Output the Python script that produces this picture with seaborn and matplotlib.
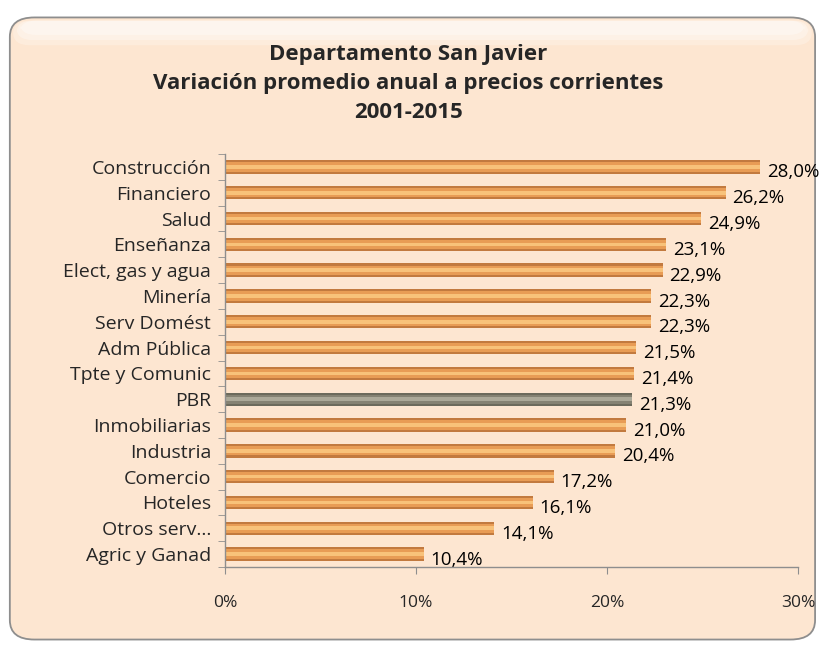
import matplotlib
matplotlib.use("Agg")
import matplotlib.pyplot as plt
import seaborn as sns
import pandas as pd
from matplotlib.patches import FancyBboxPatch

# data
sectores = ["Construcción", "Financiero", "Salud", "Enseñanza", "Elect, gas y agua",
            "Minería", "Serv Domést", "Adm Pública", "Tpte y Comunic", "PBR",
            "Inmobiliarias", "Industria", "Comercio", "Hoteles", "Otros serv…",
            "Agric y Ganad"]
variacion = [28.0, 26.2, 24.9, 23.1, 22.9, 22.3, 22.3, 21.5, 21.4, 21.3,
             21.0, 20.4, 17.2, 16.1, 14.1, 10.4]
titulo = "Departamento San Javier\nVariación promedio anual a precios corrientes\n2001-2015"

df = pd.DataFrame({"sector": sectores, "var": variacion})

sns.set_style("white")
plt.rcParams["font.family"] = ["Open Sans", "DejaVu Sans"]
plt.rcParams["patch.linewidth"] = 0

fig = plt.figure(figsize=(8.2, 6.46), dpi=100)
fig.patch.set_facecolor("white")

# rounded background box with a soft bevel at the top
box = FancyBboxPatch((0.012, 0.01), 0.982, 0.963, boxstyle="round,pad=0,rounding_size=0.03",
                     transform=fig.transFigure, facecolor="#FDE6D1", edgecolor="#8E8E8E",
                     linewidth=1.3, zorder=-5)
fig.patches.append(box)
for k, a in enumerate([0.25, 0.3, 0.35]):
    brillo = FancyBboxPatch((0.016 + k * 0.004, 0.93 + k * 0.008), 0.974 - k * 0.008, 0.038 - k * 0.008,
                            boxstyle="round,pad=0,rounding_size=0.02",
                            transform=fig.transFigure, facecolor="white", edgecolor="none",
                            alpha=a, zorder=-4)
    fig.patches.append(brillo)

ax = fig.add_axes([0.2744, 0.1223, 0.699, 0.6393])
ax.set_facecolor("none")
ax.set_zorder(2)

oscuro = ["#C27A3F" if s != "PBR" else "#6C6A5C" for s in sectores]
medio = ["#E89C55" if s != "PBR" else "#858273" for s in sectores]
claro = ["#F8C27A" if s != "PBR" else "#ACA999" for s in sectores]

# layered bars for a cylinder-like look
sns.barplot(data=df, x="var", y="sector", hue="sector", palette=oscuro, legend=False,
            width=0.52, orient="h", ax=ax, saturation=1, linewidth=0)
sns.barplot(data=df, x="var", y="sector", hue="sector", palette=medio, legend=False,
            width=0.36, orient="h", ax=ax, saturation=1, linewidth=0)
sns.barplot(data=df, x="var", y="sector", hue="sector", palette=claro, legend=False,
            width=0.14, orient="h", ax=ax, saturation=1, linewidth=0)

for i, v in enumerate(variacion):
    ax.annotate(f"{v:.1f}%".replace(".", ","), xy=(v, i), xytext=(5, -4),
                textcoords="offset points", va="center", ha="left",
                fontsize=13.5, color="black", annotation_clip=False)

ax.set_xlim(0, 30)
ax.set_ylim(15.5, -0.5)
ax.set_xticks([0, 10, 20, 30])
ax.set_xticklabels(["0%", "10%", "20%", "30%"], fontsize=12.5)
ax.set_yticks(range(len(sectores)))
ax.set_yticklabels(sectores, fontsize=14)
ax.set_yticks([i - 0.5 for i in range(len(sectores) + 1)], minor=True)
ax.tick_params(axis="y", which="major", length=0, pad=10)
ax.tick_params(axis="y", which="minor", length=5, color="#8E8E8E", direction="out", left=True)
ax.tick_params(axis="x", which="major", length=5, color="#8E8E8E", direction="out", pad=15, bottom=True)
ax.set_xlabel("")
ax.set_ylabel("")
for s in ["top", "right"]:
    ax.spines[s].set_visible(False)
for s in ["left", "bottom"]:
    ax.spines[s].set_color("#8E8E8E")
    ax.spines[s].set_linewidth(1.0)

fig.text(0.498, 0.871, titulo, ha="center", va="center", fontsize=16,
         fontweight="bold", linespacing=1.5)

fig.savefig("out.png", dpi=100)
